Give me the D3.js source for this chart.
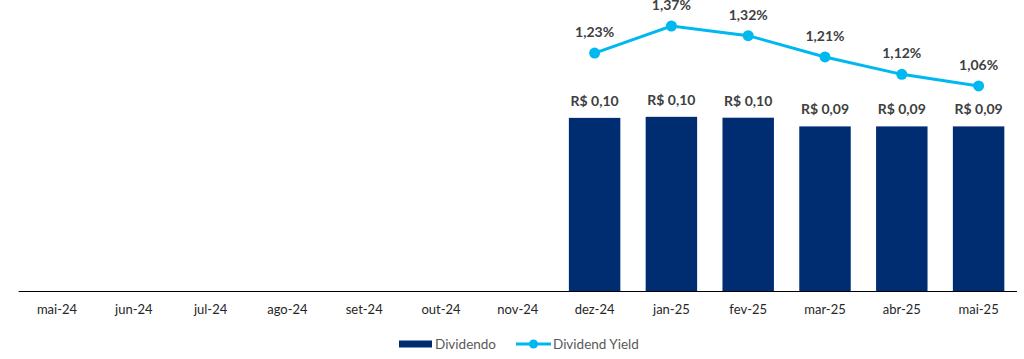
<!DOCTYPE html>
<html>
<head>
<meta charset="utf-8">
<script src="https://cdn.jsdelivr.net/npm/d3@7"></script>
<style>
  body { margin: 0; background: #fff; }
  svg { display: block; font-family: Lato, "Open Sans", sans-serif; }
</style>
</head>
<body>
<svg id="chart" width="1024" height="359"></svg>
<script>
// months on the x axis
const months = ["mai-24", "jun-24", "jul-24", "ago-24", "set-24", "out-24", "nov-24",
                "dez-24", "jan-25", "fev-25", "mar-25", "abr-25", "mai-25"];
// dividend per share (R$), null = no payment
const dividends = [null, null, null, null, null, null, null,
                   0.0995, 0.1001, 0.0996, 0.0946, 0.0946, 0.0946];
// dividend yield (%)
const yields = [null, null, null, null, null, null, null,
                1.23, 1.37, 1.32, 1.21, 1.12, 1.06];

const width = 1024, height = 359;
const baseY = 291;
const svg = d3.select("#chart");

const x = d3.scaleBand()
    .domain(months)
    .range([18.6, 1017])
    .paddingInner(0.33)
    .paddingOuter(0.165);

const yBar = d3.scaleLinear().domain([0, 0.1]).range([baseY, 117]);
const yLine = d3.scaleLinear().domain([0, 1.37]).range([baseY, 26]);

const rows = months.map((m, i) => ({ m, div: dividends[i], dy: yields[i] }));
const fmt2 = d3.format(".2f");

// bars
svg.append("g")
  .selectAll("rect")
  .data(rows.filter(d => d.div != null))
  .join("rect")
    .attr("x", d => x(d.m))
    .attr("y", d => yBar(d.div))
    .attr("width", x.bandwidth())
    .attr("height", d => baseY - yBar(d.div))
    .attr("fill", "#002D72");

// bar labels
svg.append("g")
  .selectAll("text")
  .data(rows.filter(d => d.div != null))
  .join("text")
    .attr("x", d => x(d.m) + x.bandwidth() / 2)
    .attr("y", d => yBar(d.div) - 12)
    .attr("text-anchor", "middle")
    .attr("font-size", 14)
    .attr("font-weight", "bold")
    .attr("fill", "#404040")
    .text(d => "R$ " + fmt2(d.div).replace(".", ","));

// x axis
const xAxis = svg.append("g")
    .attr("transform", `translate(0,${baseY})`)
    .call(d3.axisBottom(x).tickSize(0).tickPadding(14));
xAxis.select(".domain").attr("stroke", "#000").attr("stroke-width", 1).attr("d", "M18.6,0.5H1017");
xAxis.selectAll("text")
    .attr("font-family", "Lato, sans-serif")
    .attr("font-size", 13)
    .attr("fill", "#262626");

// yield line
const lineRows = rows.filter(d => d.dy != null);
const cx = d => x(d.m) + x.bandwidth() / 2;
svg.append("path")
    .datum(lineRows)
    .attr("fill", "none")
    .attr("stroke", "#00B8F0")
    .attr("stroke-width", 3)
    .attr("d", d3.line().x(cx).y(d => yLine(d.dy)));

svg.append("g")
  .selectAll("circle")
  .data(lineRows)
  .join("circle")
    .attr("cx", cx)
    .attr("cy", d => yLine(d.dy))
    .attr("r", 5.5)
    .attr("fill", "#00B8F0");

svg.append("g")
  .selectAll("text")
  .data(lineRows)
  .join("text")
    .attr("x", cx)
    .attr("y", d => yLine(d.dy) - 16)
    .attr("text-anchor", "middle")
    .attr("font-size", 14)
    .attr("font-weight", "bold")
    .attr("fill", "#404040")
    .text(d => fmt2(d.dy).replace(".", ",") + "%");

// legend
const legend = svg.append("g").attr("transform", "translate(0,344)");
legend.append("rect")
    .attr("x", 399).attr("y", -3.5).attr("width", 33).attr("height", 7)
    .attr("fill", "#002D72");
legend.append("text")
    .attr("x", 435).attr("y", 0).attr("dy", "0.35em")
    .attr("font-size", 13.5).attr("fill", "#595959")
    .text("Dividendo");
legend.append("line")
    .attr("x1", 516).attr("x2", 551).attr("y1", 0).attr("y2", 0)
    .attr("stroke", "#00B8F0").attr("stroke-width", 3);
legend.append("circle")
    .attr("cx", 533.5).attr("cy", 0).attr("r", 4.5)
    .attr("fill", "#00B8F0");
legend.append("text")
    .attr("x", 553).attr("y", 0).attr("dy", "0.35em")
    .attr("font-size", 13.5).attr("fill", "#595959")
    .text("Dividend Yield");
</script>
</body>
</html>
